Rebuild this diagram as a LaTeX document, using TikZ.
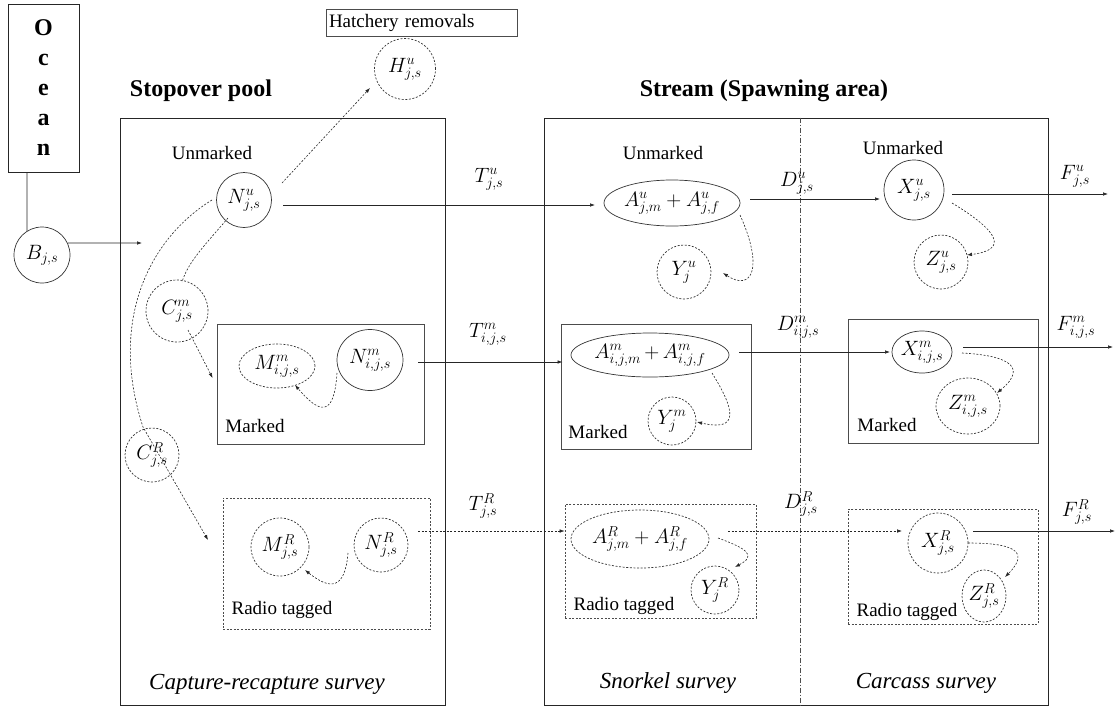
\documentclass[tikz,border=0pt]{standalone}
\usepackage{fontspec}
\setmainfont{Liberation Serif}
\DeclareMathSizes{21}{21}{14.7}{10.5}
\usetikzlibrary{arrows.meta,calc,shapes.geometric}
\begin{document}
\begin{tikzpicture}[x=1pt,y=-1pt,
  line width=0.7pt,
  >={Latex[length=5pt,width=3.6pt]},
  dsh/.style={dash pattern=on 2pt off 1.6pt},
  bigbox/.style={draw=black!85,line width=1pt,rectangle,inner sep=0pt},
  subbox/.style={draw=black!70,line width=0.8pt,rectangle,inner sep=0pt},
  circ/.style={draw=black!80,circle,inner sep=0pt,minimum size=#1},
  ell/.style={draw=black!80,ellipse,inner sep=0pt},
  lbl/.style={font=\fontsize{19}{22}\selectfont},
  ttl/.style={font=\bfseries\fontsize{24}{28}\selectfont},
  srv/.style={font=\itshape\fontsize{23}{26}\selectfont},
  mth/.style={font=\fontsize{21}{25}\selectfont},
  conn/.style={draw=black!85,line width=0.7pt},
  dconn/.style={draw=black!85,line width=0.6pt,dsh}
]
\useasboundingbox (0,0) rectangle (1119,707);

% Ocean and entry
\node[bigbox,minimum width=71pt,minimum height=168pt,align=center,
      font=\bfseries\fontsize{24}{30}\selectfont] (ocean) at (43.5,88) {O\\c\\e\\a\\n};
\node[circ=56pt,mth] (B) at (42,255) {$B_{j,s}$};
\coordinate (Bin) at (142,243);
\draw[conn] ([xshift=-16.5pt]ocean.south) -- (B.122);
\draw[conn,->] (B.25) -- (Bin);

% Big boxes and titles
\node[bigbox,minimum width=325pt,minimum height=587pt] (pool) at (282.5,411.5) {};
\node[bigbox,minimum width=504pt,minimum height=587pt] (stream) at (796,411.5) {};
\draw[draw=black!70,line width=0.6pt,dash pattern=on 5pt off 2pt on 1pt off 2pt]
  ([xshift=4pt]stream.north) -- ([xshift=4pt]stream.south);
\node[ttl] (pooltitle) at (201,91) {Stopover pool};
\node[ttl] (streamtitle) at (764,91) {Stream (Spawning area)};

% Hatchery
\node[subbox,minimum height=27pt,text width=185pt,inner xsep=3pt,align=left,
      lbl] (hatch) at (421.5,22.5) {Hatchery removals};
\node[circ=61pt,dsh,mth] (H) at (405,69) {$H^{u}_{j,s}$};

% Stopover: unmarked
\node[lbl] (unm1) at (212,153) {Unmarked};
\node[circ=55pt,mth] (Nu) at (244,200) {$N^{u}_{j,s}$};
\node[circ=62pt,dsh,mth] (Cm) at (177,311) {$C^{m}_{j,s}$};
\node[circ=54pt,dsh,mth] (CR) at (152,455) {$C^{R}_{j,s}$};

% Stopover: marked
\node[subbox,minimum width=207pt,minimum height=120pt] (mbox1) at (320.5,384) {};
\node[ell,dsh,minimum width=76pt,minimum height=44pt,mth] (Mm) at (277,366) {$M^{m}_{i,j,s}$};
\node[ell,minimum width=66pt,minimum height=61pt,mth] (Nm) at (370,360) {$N^{m}_{i,j,s}$};
\node[lbl] (mk1) at (255,426) {Marked};

% Stopover: radio
\node[subbox,dsh,minimum width=207pt,minimum height=131pt] (rbox1) at (326.5,563.5) {};
\node[circ=58pt,dsh,mth] (MR) at (280,547) {$M^{R}_{j,s}$};
\node[circ=54pt,dsh,mth] (NR) at (381,545) {$N^{R}_{j,s}$};
\node[lbl] (rt1) at (282,610) {Radio tagged};

% transition labels
\node[mth] (Tu) at (489,179) {$T^{u}_{j,s}$};
\node[mth] (Tm) at (488,334) {$T^{m}_{i,j,s}$};
\node[mth] (TR) at (483,506) {$T^{R}_{j,s}$};
\node[mth] (Du) at (797,183) {$D^{u}_{j,s}$};
\node[mth] (Dm) at (798,327) {$D^{m}_{i,j,s}$};
\node[mth] (DR) at (801,504) {$D^{R}_{j,s}$};
\node[mth] (Fu) at (1075,176) {$F^{u}_{j,s}$};
\node[mth] (Fm) at (1076,327) {$F^{m}_{i,j,s}$};
\node[mth] (FR) at (1077,512) {$F^{R}_{j,s}$};

% Stream: unmarked
\node[lbl] (unm2) at (663,153) {Unmarked};
\node[ell,minimum width=136pt,minimum height=46pt,mth] (Au) at (672,203) {$A^{u}_{j,m}+A^{u}_{j,f}$};
\node[circ=54pt,dsh,mth] (Yu) at (684,272) {$Y^{u}_{j}$};
\node[lbl] (unm3) at (903,148) {Unmarked};
\node[circ=60pt,mth] (Xu) at (914,190) {$X^{u}_{j,s}$};
\node[circ=54pt,dsh,mth] (Zu) at (941,262) {$Z^{u}_{j,s}$};

% Stream: marked
\node[subbox,minimum width=190pt,minimum height=125pt] (mbox2) at (656,386.5) {};
\node[ell,minimum width=158pt,minimum height=44pt,inner xsep=0pt,mth] (Am) at (650,355) {$A^{m}_{i,j,m}\,{+}\,A^{m}_{i,j,f}$};
\node[circ=48pt,dsh,mth] (Ym) at (672,421) {$Y^{m}_{j}$};
\node[lbl] (mk2) at (598,432) {Marked};
\node[subbox,minimum width=190pt,minimum height=124pt] (mbox3) at (943,381) {};
\node[ell,minimum width=60pt,minimum height=42pt,mth] (Xm) at (922,352) {$X^{m}_{i,j,s}$};
\node[ell,dsh,minimum width=64pt,minimum height=56pt,mth] (Zm) at (968,406) {$Z^{m}_{i,j,s}$};
\node[lbl] (mk3) at (887,425) {Marked};

% Stream: radio
\node[subbox,dsh,minimum width=191pt,minimum height=114pt] (rbox2) at (660.5,561) {};
\node[ell,dsh,minimum width=138pt,minimum height=58pt,mth] (AR) at (640,539) {$A^{R}_{j,m}+A^{R}_{j,f}$};
\node[circ=48pt,dsh,mth] (YR) at (715,590) {$Y^{R}_{j}$};
\node[lbl] (rt2) at (624,606) {Radio tagged};
\node[subbox,dsh,minimum width=190pt,minimum height=115pt] (rbox3) at (943,566.5) {};
\node[circ=60pt,dsh,mth] (XR) at (938,543) {$X^{R}_{j,s}$};
\node[ell,dsh,minimum width=44pt,minimum height=52pt,mth] (ZR) at (984,596) {$Z^{R}_{j,s}$};
\node[lbl] (rt3) at (907,612) {Radio tagged};

% survey labels
\node[srv] (s1) at (267,684) {Capture-recapture survey};
\node[srv] (s2) at (668,683) {Snorkel survey};
\node[srv] (s3) at (926,683) {Carcass survey};

% free ends
\coordinate (Fuend) at (1108,194);
\coordinate (Fmend) at (1113,347);
\coordinate (FRend) at (1115,531);

% connectors: stopover
\draw[dconn,->] ($(Nu)+(38,-17)$) -- ($(H)+(-35,19)$);
\draw[dconn] ($(Nu)+(-16,18)$) .. controls (205,245) and (188,262) .. ($(Cm)+(5,-29)$);
\draw[dconn,->] ($(Cm)+(11,19)$) -- ($(mbox1.west)+(-4,-6)$);
\draw[dconn,->] ($(Nu)+(-32,0)$) .. controls (150,238) and (108,320) .. ($(CR)+(-9,-28)$) -- ($(CR)+(56,85)$);
\draw[dconn,->] ($(Nm)+(-33,13)$) .. controls (334,420) and (318,412) .. ($(Mm)+(18,19)$);
\draw[dconn,->] ($(NR)+(-33,8)$) .. controls (345,590) and (330,590) .. ($(MR)+(25,23)$);

% connectors: main flows
\draw[conn,->] ($(Nu)+(39,5)$) -- ($(Au)+(-77,2)$);
\draw[conn,->] ($(Nm)+(48,2)$) -- ($(mbox2.west)+(2,-24.5)$);
\draw[dconn,->] ($(NR)+(37,-14)$) -- ($(rbox2.west)+(0,-30)$);
\draw[conn,->] ($(Au)+(78,-4)$) -- ($(Xu)+(-34,9)$);
\draw[conn,->] ($(Am)+(89,-3)$) -- ($(Xm)+(-32,0)$);
\draw[dconn,->] ($(AR)+(88,-8)$) -- ($(XR)+(-36,-12)$);
\draw[conn,->] ($(Xu)+(38,4)$) -- (Fuend);
\draw[conn,->] ($(Xm)+(41,-5)$) -- (Fmend);
\draw[conn,->] ($(XR)+(35,-12)$) -- (FRend);

% connectors: within stream
\draw[dconn,->] ($(Au)+(68,12)$) .. controls (764,268) and (752,292) .. ($(Yu)+(39,1)$);
\draw[dconn,->] ($(Am)+(62,18)$) .. controls (735,410) and (740,432) .. ($(Ym)+(25,1)$);
\draw[dconn,->] ($(AR)+(78,-1)$) .. controls (745,548) and (758,555) .. ($(YR)+(20,-23)$);
\draw[dconn,->] ($(Xu)+(38,13)$) .. controls (1000,232) and (1008,250) .. ($(Zu)+(26,-7)$);
\draw[dconn,->] ($(Xm)+(40,1)$) .. controls (1000,355) and (1032,364) .. ($(Zm)+(29,-13)$);
\draw[dconn,->] ($(XR)+(30,0)$) .. controls (1010,543) and (1032,550) .. ($(ZR)+(21,-19)$);
\end{tikzpicture}
\end{document}
